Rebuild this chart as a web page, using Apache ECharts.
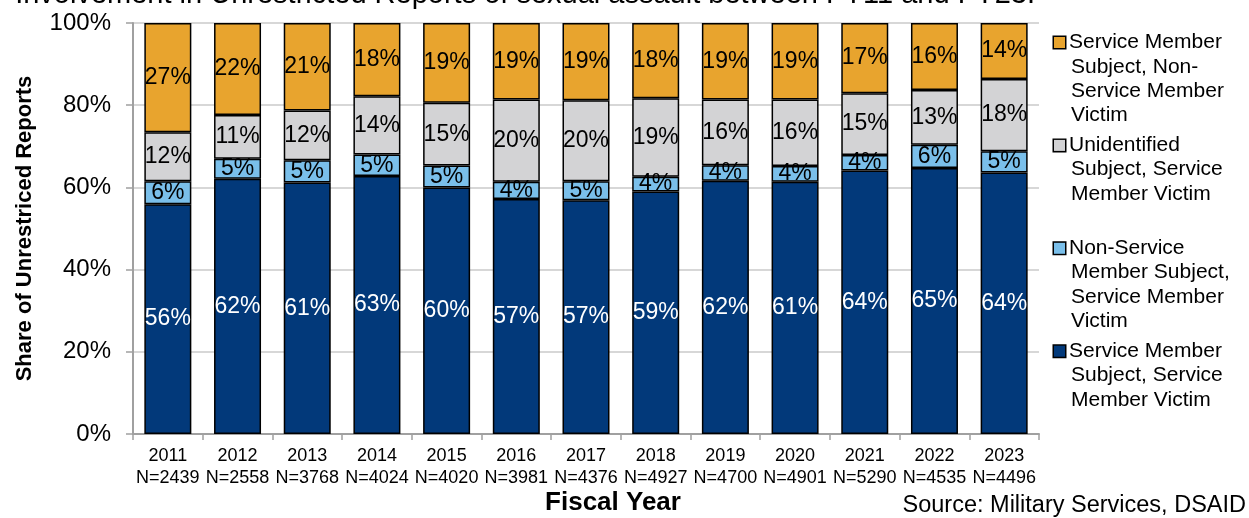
<!DOCTYPE html>
<html>
<head>
<meta charset="utf-8">
<script src="https://cdn.jsdelivr.net/npm/echarts@6/dist/echarts.min.js"></script>
<style>
html,body{margin:0;padding:0;background:#fff;}
#chart{width:1249px;height:518px;}
</style>
</head>
<body>
<div id="chart"></div>
<script>
var years = ['2011','2012','2013','2014','2015','2016','2017','2018','2019','2020','2021','2022','2023'];
var counts = ['N=2439','N=2558','N=3768','N=4024','N=4020','N=3981','N=4376','N=4927','N=4700','N=4901','N=5290','N=4535','N=4496'];
var smSubjectSmVictim = [55.9, 62.1, 61.2, 62.8, 60.0, 57.2, 56.9, 59.0, 61.6, 61.4, 64.1, 64.7, 63.6];
var nonSmSubjectSmVictim = [5.6, 4.9, 5.4, 5.2, 5.3, 4.2, 4.6, 3.6, 3.8, 3.8, 3.8, 5.7, 5.2];
var unidentifiedSubjectSmVictim = [11.9, 10.6, 12.1, 14.2, 15.3, 20.0, 19.7, 19.1, 16.0, 16.2, 15.0, 13.3, 17.6];
var smSubjectNonSmVictim = [26.6, 22.4, 21.3, 17.8, 19.4, 18.6, 18.8, 18.3, 18.6, 18.6, 17.1, 16.3, 13.6];
var yTicks = [0, 20, 40, 60, 80, 100];

var names = {
  orange: 'Service Member Subject, Non-Service Member Victim',
  gray: 'Unidentified Subject, Service Member Victim',
  lblue: 'Non-Service Member Subject, Service Member Victim',
  navy: 'Service Member Subject, Service Member Victim'
};
var legendLines = {};
legendLines[names.orange] = ['Service Member', 'Subject, Non-', 'Service Member', 'Victim'];
legendLines[names.gray] = ['Unidentified', 'Subject, Service', 'Member Victim', ' '];
legendLines[names.lblue] = ['Non-Service', 'Member Subject,', 'Service Member', 'Victim'];
legendLines[names.navy] = ['Service Member', 'Subject, Service', 'Member Victim'];
var boxKey = {};
boxKey[names.orange] = 'bo';
boxKey[names.gray] = 'bg';
boxKey[names.lblue] = 'bl';
boxKey[names.navy] = 'bn';

var colors = {
  orange: '#E8A42E',
  gray: '#D3D3D5',
  lblue: '#7ABFEA',
  navy: '#02397A'
};

var FONT = 'Liberation Sans, Arial, sans-serif';
var categories = years.map(function (y, i) { return y + '\n' + counts[i]; });

function mkSeries(name, data, color, labelColor) {
  return {
    name: name,
    type: 'bar',
    stack: 'total',
    barWidth: 47,
    data: data,
    itemStyle: { color: color, borderColor: '#000', borderWidth: 1.5 },
    label: {
      show: true,
      position: 'inside',
      color: labelColor,
      fontFamily: FONT,
      fontSize: 23,
      formatter: function (p) { return Math.round(p.value) + '%'; }
    },
    emphasis: { disabled: true }
  };
}

var rich = {
  t: { fontFamily: FONT, fontSize: 21, color: '#000', lineHeight: 24.3 },
  s: { width: 17, lineHeight: 24.3 },
  g: { width: 4, lineHeight: 24.3 }
};
[['bo', colors.orange], ['bg', colors.gray], ['bl', colors.lblue], ['bn', colors.navy]].forEach(function (b) {
  rich[b[0]] = { width: 11, height: 11, backgroundColor: b[1], borderColor: '#000', borderWidth: 1.5, verticalAlign: 'middle', align: 'left' };
});

var chart = echarts.init(document.getElementById('chart'), null, { renderer: 'canvas' });
chart.setOption({
  animation: false,
  backgroundColor: '#fff',
  textStyle: { fontFamily: FONT },
  grid: { left: 133, right: 210, top: 23, bottom: 84, containLabel: false },
  legend: {
    orient: 'vertical',
    left: 1043,
    top: 27,
    itemGap: 9,
    itemWidth: 0,
    itemHeight: 0,
    icon: 'rect',
    selectedMode: false,
    data: [names.orange, names.gray, names.lblue, names.navy],
    formatter: function (name) {
      var lines = legendLines[name];
      return lines.map(function (l, i) {
        return (i === 0 ? '{' + boxKey[name] + '|}{g|}' : '{s|}') + '{t|' + l + '}';
      }).join('\n');
    },
    textStyle: { fontFamily: FONT, fontSize: 21, color: '#000', rich: rich }
  },
  xAxis: {
    type: 'category',
    data: categories,
    axisLine: { show: true, lineStyle: { color: '#a0a0a0', width: 2 } },
    axisTick: { show: true, length: 6, lineStyle: { color: '#a0a0a0', width: 1.5 } },
    axisLabel: { fontFamily: FONT, fontSize: 18, color: '#000', lineHeight: 22, margin: 11, interval: 0 }
  },
  yAxis: {
    type: 'value',
    min: yTicks[0],
    max: yTicks[yTicks.length - 1],
    interval: 20,
    name: 'Share of Unrestriced Reports',
    nameLocation: 'middle',
    nameRotate: 90,
    nameGap: 97,
    nameTextStyle: { fontFamily: FONT, fontSize: 22, fontWeight: 'bold', color: '#000' },
    axisLine: { show: true, lineStyle: { color: '#a0a0a0', width: 2 } },
    axisTick: { show: true, length: 7, lineStyle: { color: '#a0a0a0', width: 1.5 } },
    axisLabel: { fontFamily: FONT, fontSize: 24, color: '#000', margin: 22, formatter: '{value}%' },
    splitLine: { show: true, lineStyle: { color: '#cacaca', width: 1.5 } }
  },
  graphic: [
    {
      type: 'text',
      x: 613,
      y: 503,
      style: { text: 'Fiscal Year', align: 'center', verticalAlign: 'middle', fontFamily: FONT, fontSize: 26, fontWeight: 'bold', fill: '#000' }
    },
    {
      type: 'text',
      x: 1246,
      y: 506,
      style: { text: 'Source: Military Services, DSAID', align: 'right', verticalAlign: 'middle', fontFamily: FONT, fontSize: 23.5, fill: '#000' }
    },
    {
      type: 'text',
      x: 1035,
      y: 9,
      style: { text: 'Involvement in Unrestricted Reports of sexual assault between FY11 and FY23.', align: 'right', verticalAlign: 'bottom', fontFamily: FONT, fontSize: 29, fill: '#000' }
    }
  ],
  series: [
    mkSeries(names.navy, smSubjectSmVictim, colors.navy, '#fff'),
    mkSeries(names.lblue, nonSmSubjectSmVictim, colors.lblue, '#000'),
    mkSeries(names.gray, unidentifiedSubjectSmVictim, colors.gray, '#000'),
    mkSeries(names.orange, smSubjectNonSmVictim, colors.orange, '#000')
  ]
});
</script>
</body>
</html>
